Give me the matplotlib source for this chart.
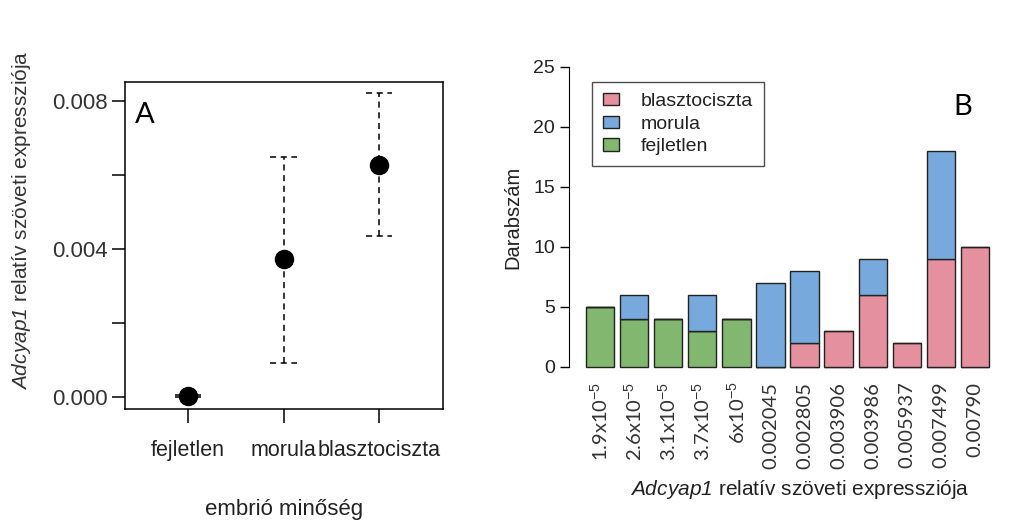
import matplotlib.pyplot as plt
from matplotlib.patches import Patch
import numpy as np

# panel A: mean and range of expression per embryo quality group
groups = ["fejletlen", "morula", "blasztociszta"]
group_mean = [0.00003, 0.00373, 0.00627]
group_low = [0.00001, 0.00092, 0.00435]
group_high = [0.00006, 0.00649, 0.00822]

# panel B: counts per expression value, stacked by embryo quality
expr_labels = ["1.9x10$^{-5}$", "2.6x10$^{-5}$", "3.1x10$^{-5}$", "3.7x10$^{-5}$", "6x10$^{-5}$",
               "0.002045", "0.002805", "0.003906", "0.003986", "0.005937", "0.007499", "0.00790"]
n_fejletlen = [5, 4, 4, 3, 4, 0, 0, 0, 0, 0, 0, 0]
n_morula = [0, 2, 0, 3, 0, 7, 6, 0, 3, 0, 9, 0]
n_blaszt = [0, 0, 0, 0, 0, 0, 2, 3, 6, 2, 9, 10]

green = "#82b76f"
blue = "#77a9dc"
pink = "#e4909f"

plt.rcParams["font.family"] = ["Liberation Sans", "DejaVu Sans"]
plt.rcParams["mathtext.fontset"] = "custom"
plt.rcParams["mathtext.rm"] = "Liberation Sans"
plt.rcParams["mathtext.sf"] = "Liberation Sans:italic"

gene_label = r"$\mathsf{Adcyap1}$ relatív szöveti expressziója"

fig = plt.figure(figsize=(10.3, 5.22), dpi=100)

# ---- A ----
ax1 = fig.add_axes([0.1214, 0.2165, 0.3087, 0.6264])
xpos = np.arange(1, len(groups) + 1)
cap = 0.14
dash = (0, (4, 3))
ax1.vlines(xpos, group_low, group_high, colors="black", linestyles=dash, lw=1.1)
ax1.hlines(group_low, xpos - cap, xpos + cap, colors="black", linestyles=dash, lw=1.1)
ax1.hlines(group_high, xpos - cap, xpos + cap, colors="black", linestyles=dash, lw=1.1)
ax1.plot(xpos, group_mean, "o", color="black", ms=13)
ax1.set_xlim(0.34, 3.67)
ax1.set_ylim(-0.000324, 0.00851)
ax1.set_xticks(xpos)
ax1.set_xticklabels(groups, fontsize=15.5, color="#222222")
ax1.set_yticks([0, 0.002, 0.004, 0.006, 0.008])
ax1.set_yticklabels(["0.000", "", "0.004", "", "0.008"], fontsize=16, color="#333333")
ax1.tick_params(axis="x", length=10, width=1.1, pad=12)
ax1.tick_params(axis="y", length=9.4, width=1.1, pad=3)
for s in ax1.spines.values():
    s.set_linewidth(1.1)
ax1.set_xlabel("embrió minőség", fontsize=16, labelpad=28, color="#222222")
ax1.set_ylabel(gene_label, fontsize=15, color="#333333")
ax1.yaxis.set_label_coords(-0.288, 0.578)
ax1.text(0.03, 0.94, "A", transform=ax1.transAxes, fontsize=21, family="Lato", va="top", ha="left")

# ---- B ----
ax2 = fig.add_axes([0.5524, 0.274, 0.4243, 0.6207])
bx = np.arange(len(expr_labels))
w = 0.833
base = np.array(n_fejletlen) + np.array(n_blaszt)
ax2.bar(bx, n_fejletlen, w, color=green, edgecolor="#222222", lw=1)
ax2.bar(bx, n_blaszt, w, bottom=n_fejletlen, color=pink, edgecolor="#222222", lw=1)
ax2.bar(bx, n_morula, w, bottom=base, color=blue, edgecolor="#222222", lw=1)
ax2.set_xlim(-0.91, 11.91)
ax2.set_ylim(-1, 26)
ax2.set_yticks([0, 5, 10, 15, 20, 25])
ax2.tick_params(axis="y", labelsize=14, length=6.5, width=1, pad=3.5, labelcolor="#222222")
ax2.set_xticks(bx)
ax2.set_xticklabels(expr_labels, rotation=90, fontsize=14.5, family=["Lato", "DejaVu Sans"],
                    color="#333333")
ax2.tick_params(axis="x", length=0, pad=2)
for k in ["top", "right", "bottom"]:
    ax2.spines[k].set_visible(False)
ax2.spines["left"].set_bounds(0, 25)
ax2.set_ylabel("Darabszám", fontsize=14.5, labelpad=8, color="#222222")
ax2.set_xlabel(gene_label, fontsize=15, color="#222222")
ax2.xaxis.set_label_coords(0.529, -0.305)
handles = [Patch(facecolor=pink, edgecolor="#222222", label="blasztociszta"),
           Patch(facecolor=blue, edgecolor="#222222", label="morula"),
           Patch(facecolor=green, edgecolor="#222222", label="fejletlen")]
leg = ax2.legend(handles=handles, loc="upper left", bbox_to_anchor=(592 / 1030, 1 - 82 / 522),
                 bbox_transform=fig.transFigure, fontsize=14, frameon=True, fancybox=False,
                 handlelength=0.85, handleheight=0.6, handletextpad=1.1, labelspacing=0.3,
                 borderpad=0.55, borderaxespad=0)
leg.get_frame().set_edgecolor("#222222")
leg.get_frame().set_linewidth(1)
for t in leg.get_texts():
    t.set_color("#222222")
ax2.text(963 / 1030, 1 - 107 / 522, "B", transform=fig.transFigure, fontsize=21, family="Lato",
         va="center", ha="center")

fig.savefig("out.png", dpi=100)
